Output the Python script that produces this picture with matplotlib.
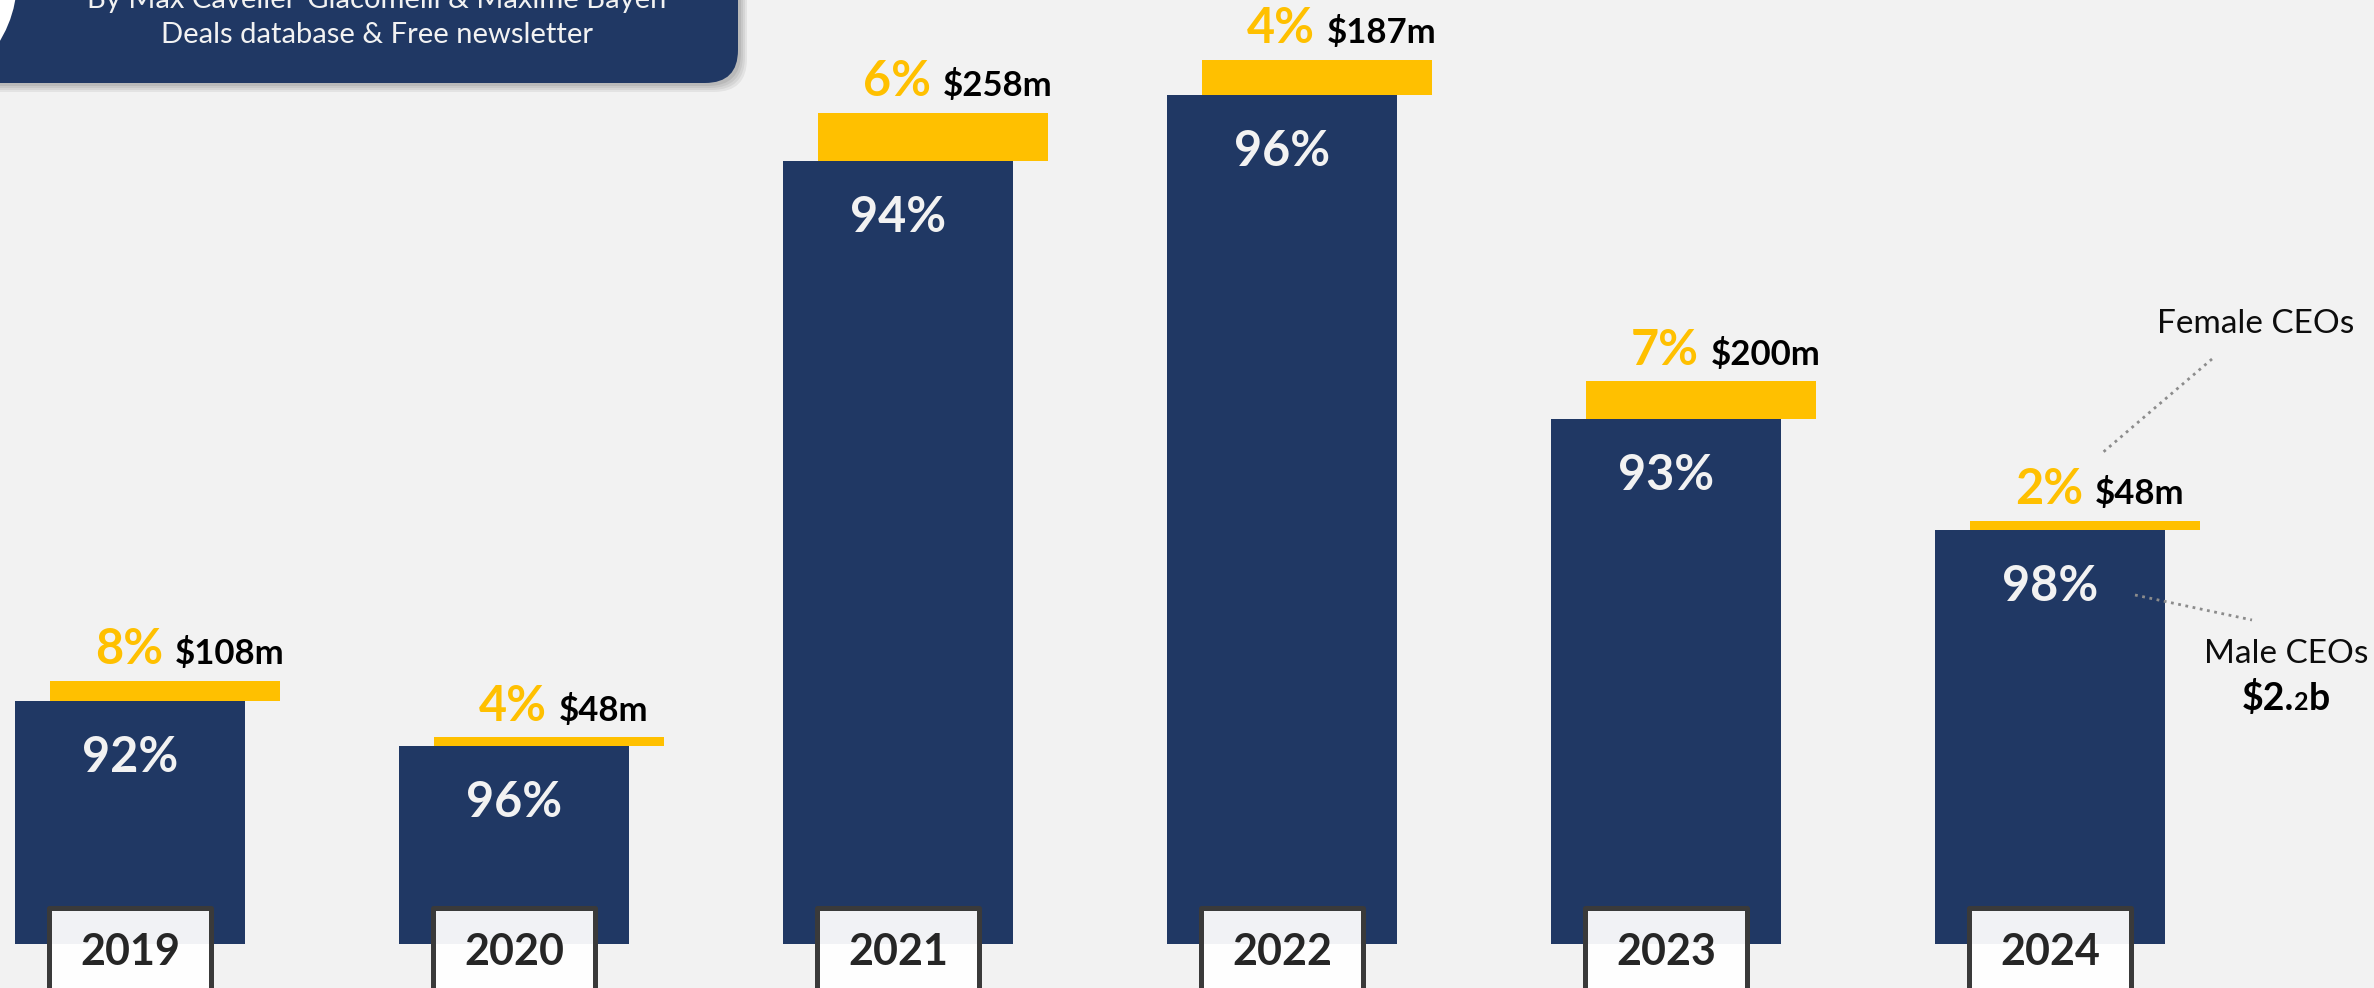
import numpy as np
import matplotlib
matplotlib.use('Agg')
import matplotlib.pyplot as plt
from matplotlib.patches import FancyBboxPatch, Rectangle, Circle
from matplotlib.lines import Line2D
from matplotlib.transforms import IdentityTransform

# funding raised by companies with male / female CEOs, in $m
years = ['2019', '2020', '2021', '2022', '2023', '2024']
male_usd_m = [1290, 1050, 4160, 4510, 2790, 2200]
female_usd_m = [108, 48, 258, 187, 200, 48]
female_usd_labels = ['$108m', '$48m', '$258m', '$187m', '$200m', '$48m']
male_2024_label = ('$2.', '2', 'b')

header_lines = ['By Max Cavelier-Giacomelli & Maxime Bayen',
                'Deals database & Free newsletter']

NAVY = '#203864'
GOLD = '#ffc000'
BG = '#f2f2f2'
W, H = 2374, 988

plt.rcParams['font.family'] = ['Lato', 'DejaVu Sans']

fig = plt.figure(figsize=(W / 100, H / 100), dpi=100, facecolor=BG)
ax = fig.add_axes([0, 0, 1, 1])
ax.axis('off')

px_per_m = 0.1882
step = 384.0
ax.set_xlim(-130 / step, (W - 130) / step)
ax.set_ylim(-44 / px_per_m, (H - 44) / px_per_m)

male = np.array(male_usd_m, dtype=float)
female = np.array(female_usd_m, dtype=float)
x = np.arange(len(years))

ax.bar(x, male, width=0.6, color=NAVY, zorder=2)
ax.bar(x + 35 / step, female, bottom=male, width=0.6, color=GOLD, zorder=1)

female_pct = np.round(female / (male + female) * 100).astype(int)
male_pct = 100 - female_pct

for i in range(len(years)):
    top = male[i] + female[i]
    ax.annotate(f'{male_pct[i]}%', xy=(i, male[i]), xytext=(0, -51),
                textcoords='offset points', ha='center', va='baseline',
                color='#f2f2f2', fontsize=35, fontweight='bold', zorder=4)
    ax.annotate(f'{female_pct[i]}%', xy=(i + 33 / step, top), xytext=(0, 12),
                textcoords='offset points', ha='right', va='baseline',
                color=GOLD, fontsize=35, fontweight='bold')
    ax.annotate(female_usd_labels[i], xy=(i + 45 / step, top), xytext=(0, 12),
                textcoords='offset points', ha='left', va='baseline',
                color='black', fontsize=25, fontweight='bold')

    # year tag sitting over the foot of each bar
    box_bottom = -400
    box_top = 36 / px_per_m
    ax.add_patch(Rectangle((i - 81 / step, box_bottom), 162 / step, box_top - box_bottom,
                           facecolor=(1, 1, 1, 0.94), edgecolor='#3a3a3a',
                           linewidth=3.6, joinstyle='round', zorder=3))
    ax.annotate(years[i], xy=(i, 0), xytext=(0, -15), textcoords='offset points',
                ha='center', va='baseline', color='#262626', fontsize=31,
                fontweight='bold', zorder=4)

# header banner (top left)
pix = IdentityTransform()
for k, a in enumerate([0.06, 0.06, 0.06, 0.07]):
    off = 9 - 2 * k
    fig.add_artist(FancyBboxPatch((-60 + off, H - 83 - off), 798, 200,
                                  boxstyle='round,pad=0,rounding_size=33',
                                  facecolor='black', alpha=a, edgecolor='none',
                                  transform=pix, zorder=5))
fig.add_artist(FancyBboxPatch((-60, H - 83), 798, 200,
                              boxstyle='round,pad=0,rounding_size=33',
                              facecolor=NAVY, edgecolor='none', transform=pix, zorder=6))
fig.add_artist(Circle((-100, H + 20), 117, facecolor='white', edgecolor='none',
                      transform=pix, zorder=7))
fig.text(377 / W, 1 - 8 / H, header_lines[0], ha='center', va='baseline',
         color='#f2f2f2', fontsize=21, zorder=8)
fig.text(377 / W, 1 - 43 / H, header_lines[1], ha='center', va='baseline',
         color='#f2f2f2', fontsize=21, zorder=8)

# legend callouts next to the last bar
fig.text(2157 / W, 1 - 333 / H, 'Female CEOs', ha='left', va='baseline',
         color='#0d0d0d', fontsize=24)
fig.add_artist(Line2D([2212, 2101], [H - 359, H - 454], transform=pix,
                      color='#8c8c8c', linewidth=2, linestyle=':'))
fig.add_artist(Line2D([2135, 2252], [H - 595, H - 620], transform=pix,
                      color='#8c8c8c', linewidth=2, linestyle=':'))
fig.text(2286 / W, 1 - 663 / H, 'Male CEOs', ha='center', va='baseline',
         color='#0d0d0d', fontsize=24)

renderer = fig.canvas.get_renderer()
sizes = [27, 18, 27]
parts = []
for txt, size in zip(male_2024_label, sizes):
    t = fig.text(0, 1 - 710 / H, txt, ha='left', va='baseline', color='black',
                 fontsize=size, fontweight='bold')
    parts.append(t)
widths = [t.get_window_extent(renderer).width for t in parts]
start = 2286 - sum(widths) / 2
for t, w in zip(parts, widths):
    t.set_x(start / W)
    start += w

fig.savefig('out.png', dpi=100, facecolor=BG)
